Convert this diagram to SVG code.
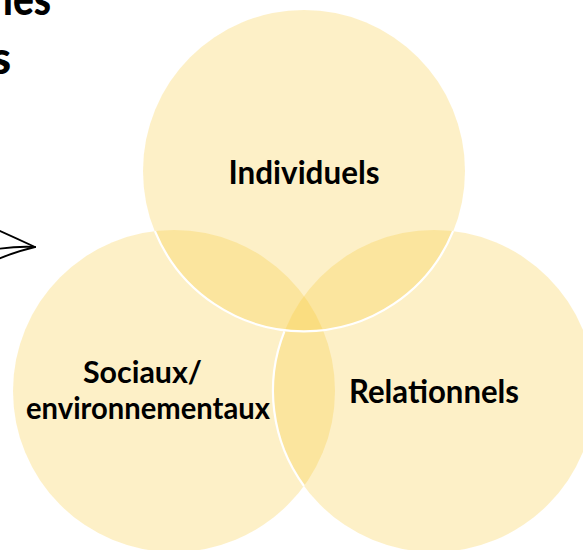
<svg xmlns="http://www.w3.org/2000/svg" width="583" height="550" viewBox="0 0 583 550">
  <style>
    .circ { fill: #F9C930; fill-opacity: 0.27; }
    .edge { fill: none; stroke: #FFFFFF; stroke-width: 2.2; }
    .lbl { font-family: Lato, "Liberation Sans", sans-serif; font-weight: 700; fill: #000000; text-anchor: middle; }
    .title { font-family: Lato, "Liberation Sans", sans-serif; font-weight: 900; fill: #000000; text-anchor: end; font-size: 46px; }
    .stroke { fill: none; stroke: #000000; stroke-width: 1.8; stroke-linecap: round; }
  </style>
  <rect width="583" height="550" fill="#FFFFFF"/>
  <g id="title">
    <text class="title" x="51" y="15" textLength="48" lengthAdjust="spacingAndGlyphs">les</text>
    <text class="title" x="11" y="74">s</text>
  </g>
  <g id="arrow">
    <path class="stroke" d="M -2 230 Q 16 238 35 247"/>
    <path class="stroke" d="M -2 249 Q 18 246 35 247"/>
    <path class="stroke" d="M -2 259 Q 18 251 35 247"/>
  </g>
  <g id="sociaux">
    <circle class="circ" cx="174" cy="391" r="161"/>
  </g>
  <g id="relationnels">
    <circle class="circ" cx="434" cy="391" r="161"/>
  </g>
  <g id="individuels">
    <circle class="circ" cx="304" cy="171" r="161"/>
  </g>
  <g id="edges">
    <path class="edge" d="M 154.9 231.1 A 161 161 0 0 0 453.1 231.1"/>
    <path class="edge" d="M 284.4 331.4 A 161 161 0 0 0 304 486"/>
  </g>
  <g id="labels">
    <text class="lbl" x="304" y="184" font-size="33" textLength="151" lengthAdjust="spacingAndGlyphs">Individuels</text>
    <text class="lbl" x="142.5" y="383" font-size="30" textLength="119" lengthAdjust="spacingAndGlyphs">Sociaux/</text>
    <text class="lbl" x="148" y="419" font-size="30" textLength="244" lengthAdjust="spacingAndGlyphs">environnementaux</text>
    <text class="lbl" x="434" y="403" font-size="33" textLength="170" lengthAdjust="spacingAndGlyphs">Relationnels</text>
  </g>
</svg>
